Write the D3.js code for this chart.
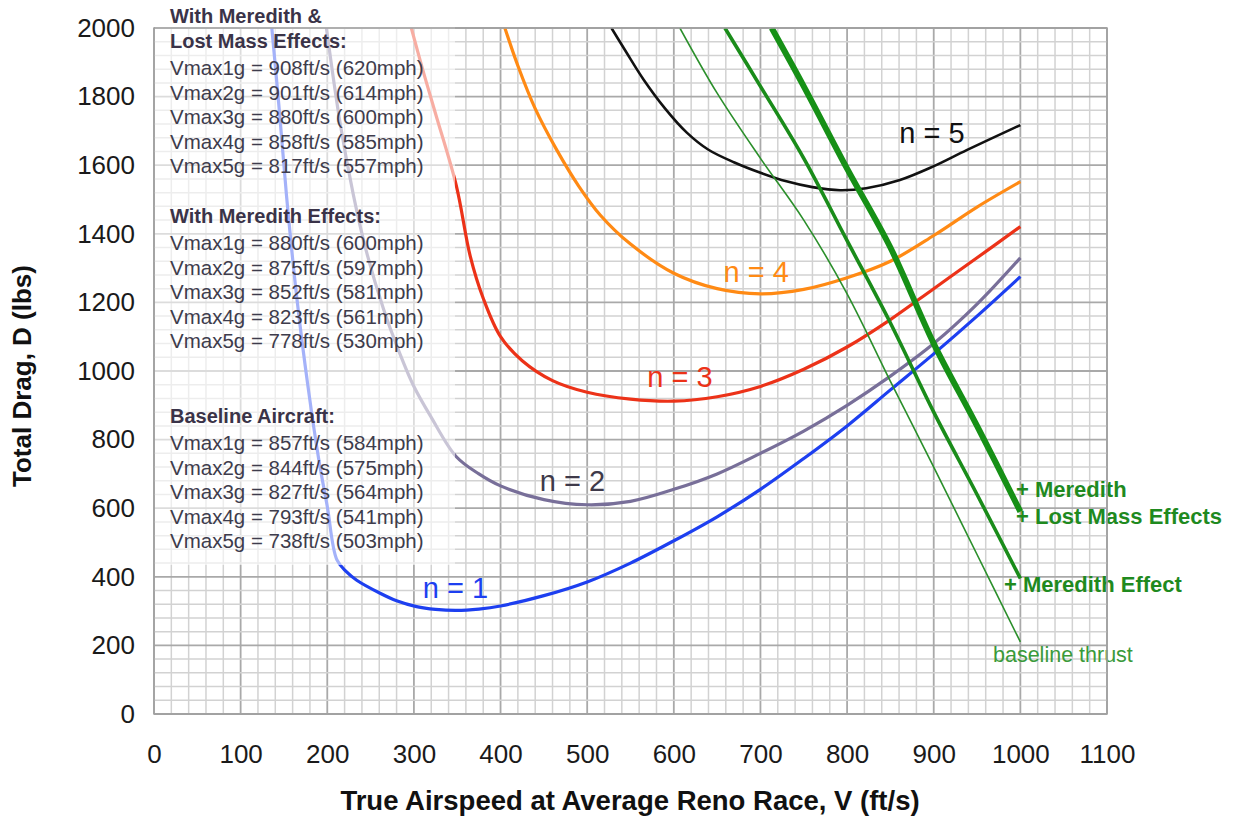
<!DOCTYPE html>
<html>
<head>
<meta charset="utf-8">
<script src="https://cdn.jsdelivr.net/npm/d3@7"></script>
<style>
  body { margin: 0; background: #fff; }
  text { font-family: "Liberation Sans", Arial, Helvetica, sans-serif; }
</style>
</head>
<body>
<script>
// drag curves, [V ft/s, D lbs]
var dragN1 = [[136,2000],[145,1750],[153,1510],[165,1210],[178,950],[190,745],[200,605],[211,450],[222,415],[234,390],[261,352],[280,330],[303,313],[325,305],[349,302],[375,306],[400,315],[450,345],[500,385],[550,440],[600,505],[650,575],[700,655],[750,745],[800,840],[850,945],[900,1050],[950,1160],[1000,1275]];
var dragN2 = [[199,2000],[215,1720],[230,1515],[245,1350],[265,1180],[280,1075],[299,960],[320,865],[349,750],[375,700],[400,665],[450,625],[500,610],[550,620],[600,655],[650,700],[700,760],[750,825],[800,900],[850,985],[900,1080],[950,1195],[1000,1330]];
var dragN3 = [[297,2000],[310,1880],[325,1750],[349,1540],[365,1335],[380,1212],[400,1100],[425,1030],[460,972],[500,938],[550,918],[600,912],[650,925],[700,955],[750,1005],[800,1070],[850,1150],[900,1240],[950,1330],[1000,1421]];
var dragN4 = [[405,2000],[420,1890],[440,1765],[465,1644],[490,1540],[515,1455],[550,1370],[600,1285],[650,1240],[700,1225],[750,1238],[800,1272],[850,1320],[900,1395],[950,1478],[1000,1552]];
var dragN5 = [[528,2000],[545,1930],[565,1850],[590,1765],[615,1695],[640,1645],[670,1608],[700,1578],[730,1553],[760,1536],[792,1527],[822,1533],[861,1557],[899,1596],[938,1644],[1000,1717]];

// thrust lines
var thrustBase = [[607,2000],[650,1810],[700,1620],[750,1440],[800,1225],[850,970],[900,720],[950,465],[1000,210]];
var thrustMer = [[659,2000],[700,1830],[750,1620],[800,1380],[850,1140],[900,880],[950,640],[1000,395]];
var thrustMerLm = [[713,2000],[750,1830],[800,1590],[850,1360],[900,1080],[950,840],[1000,590]];

var xTicks = [0,100,200,300,400,500,600,700,800,900,1000,1100];
var yTicks = [0,200,400,600,800,1000,1200,1400,1600,1800,2000];

var boxBlocks = [
  { head: ["With Meredith &", "Lost Mass Effects:"],
    lines: ["Vmax1g = 908ft/s (620mph)","Vmax2g = 901ft/s (614mph)","Vmax3g = 880ft/s (600mph)","Vmax4g = 858ft/s (585mph)","Vmax5g = 817ft/s (557mph)"] },
  { head: ["With Meredith Effects:"],
    lines: ["Vmax1g = 880ft/s (600mph)","Vmax2g = 875ft/s (597mph)","Vmax3g = 852ft/s (581mph)","Vmax4g = 823ft/s (561mph)","Vmax5g = 778ft/s (530mph)"] },
  { head: ["Baseline Aircraft:"],
    lines: ["Vmax1g = 857ft/s (584mph)","Vmax2g = 844ft/s (575mph)","Vmax3g = 827ft/s (564mph)","Vmax4g = 793ft/s (541mph)","Vmax5g = 738ft/s (503mph)"] }
];

var width = 1234, height = 818;

var svg = d3.select("body").append("svg")
    .attr("width", width)
    .attr("height", height);

svg.append("rect").attr("width", width).attr("height", height).attr("fill", "#fff");

var x = d3.scaleLinear().domain([0, 1100]).range([154, 1107]),
    y = d3.scaleLinear().domain([0, 2000]).range([714, 28]);

// grid
var grid = svg.append("g");
grid.selectAll(".vminor")
    .data(d3.range(0, 1101, 20))
    .enter().append("line")
    .attr("x1", function(d) { return x(d); })
    .attr("x2", function(d) { return x(d); })
    .attr("y1", y(0)).attr("y2", y(2000))
    .style("stroke", function(d) { return d % 100 === 0 ? "#a9a9a9" : "#d2d2d2"; })
    .style("stroke-width", function(d) { return d % 100 === 0 ? 1.8 : 1.5; });

grid.selectAll(".hminor")
    .data(d3.range(0, 2001, 40))
    .enter().append("line")
    .attr("y1", function(d) { return y(d); })
    .attr("y2", function(d) { return y(d); })
    .attr("x1", x(0)).attr("x2", x(1100))
    .style("stroke", function(d) { return d % 200 === 0 ? "#a9a9a9" : "#d2d2d2"; })
    .style("stroke-width", function(d) { return d % 200 === 0 ? 1.8 : 1.5; });

svg.append("clipPath").attr("id", "plotclip")
  .append("rect")
    .attr("x", x(0)).attr("y", y(2000))
    .attr("width", x(1100) - x(0)).attr("height", y(0) - y(2000));

var line = d3.line()
    .x(function(d) { return x(d[0]); })
    .y(function(d) { return y(d[1]); })
    .curve(d3.curveCatmullRom.alpha(0.5));

var plot = svg.append("g").attr("clip-path", "url(#plotclip)");

var curves = [
  { data: dragN1, color: "#1d3ff0", w: 3.2 },
  { data: dragN2, color: "#786f99", w: 3.2 },
  { data: dragN3, color: "#ec3218", w: 3.2 },
  { data: dragN4, color: "#ff8a14", w: 3.2 },
  { data: dragN5, color: "#111111", w: 2.6 },
  { data: thrustBase, color: "#2b8f2b", w: 1.6 },
  { data: thrustMer, color: "#1a8c1a", w: 3.6 },
  { data: thrustMerLm, color: "#169016", w: 6 }
];

plot.selectAll(".curve")
    .data(curves)
    .enter().append("path")
    .attr("class", "curve")
    .attr("d", function(d) { return line(d.data); })
    .style("fill", "none")
    .style("stroke", function(d) { return d.color; })
    .style("stroke-width", function(d) { return d.w; })
    .style("stroke-linecap", "butt");

// translucent box behind the Vmax text
svg.append("rect")
    .attr("x", x(0) + 1)
    .attr("y", 0)
    .attr("width", 455 - x(0) - 1)
    .attr("height", 565)
    .style("fill", "#fff")
    .style("fill-opacity", 0.6);

var tb = svg.append("g").attr("transform", "translate(170,0)");
var baselines = [[23, 48], [223], [423]];
var lineStarts = [75, 250, 450];
boxBlocks.forEach(function(b, i) {
    b.head.forEach(function(h, j) {
        tb.append("text")
            .attr("y", baselines[i][j])
            .style("font-size", "20px")
            .style("font-weight", "bold")
            .style("fill", "#3a3348")
            .text(h);
    });
    b.lines.forEach(function(l, j) {
        tb.append("text")
            .attr("y", lineStarts[i] + j * 24.5)
            .style("font-size", "20.5px")
            .style("fill", "#3e3c4c")
            .text(l);
    });
});

// n labels
var nLabels = [
  { t: "n = 1", v: 348, d: 367, c: "#1d3ff0" },
  { t: "n = 2", v: 483, d: 679, c: "#3f3a4a" },
  { t: "n = 3", v: 607, d: 982, c: "#ec3218" },
  { t: "n = 4", v: 695, d: 1288, c: "#ff8a14" },
  { t: "n = 5", v: 898, d: 1694, c: "#111" }
];
svg.selectAll(".nlab")
    .data(nLabels)
    .enter().append("text")
    .attr("x", function(d) { return x(d.v); })
    .attr("y", function(d) { return y(d.d); })
    .attr("dy", "0.35em")
    .attr("text-anchor", "middle")
    .style("font-size", "29px")
    .style("fill", function(d) { return d.c; })
    .text(function(d) { return d.t; });

// thrust labels
var gLabels = [
  { t: "+ Meredith", px: 1016, py: 497, b: true },
  { t: "+ Lost Mass Effects", px: 1016, py: 524, b: true },
  { t: "+ Meredith Effect", px: 1004, py: 592, b: true },
  { t: "baseline thrust", px: 993, py: 662, b: false }
];
svg.selectAll(".glab")
    .data(gLabels)
    .enter().append("text")
    .attr("x", function(d) { return d.px; })
    .attr("y", function(d) { return d.py; })
    .style("font-size", function(d) { return d.b ? "22px" : "21.5px"; })
    .style("font-weight", function(d) { return d.b ? "bold" : "normal"; })
    .style("fill", function(d) { return d.b ? "#1f8a1f" : "#3a9a3a"; })
    .text(function(d) { return d.t; });

// axes
var xAxis = svg.append("g")
    .attr("transform", "translate(0," + y(0) + ")")
    .call(d3.axisBottom(x).tickValues(xTicks).tickFormat(d3.format("d")).tickSize(0).tickPadding(31));
var yAxis = svg.append("g")
    .attr("transform", "translate(" + x(0) + ",0)")
    .call(d3.axisLeft(y).tickValues(yTicks).tickFormat(d3.format("d")).tickSize(0).tickPadding(19));
[xAxis, yAxis].forEach(function(a) {
    a.select(".domain").remove();
    a.selectAll("text")
        .style("font-size", "26px")
        .style("font-family", "'Liberation Sans', Arial, sans-serif")
        .style("fill", "#1a1a1a");
});

// plot border
svg.append("rect")
    .attr("x", x(0)).attr("y", y(2000))
    .attr("width", x(1100) - x(0)).attr("height", y(0) - y(2000))
    .style("fill", "none")
    .style("stroke", "#a0a0a0")
    .style("stroke-width", 1.5);

svg.append("text")
    .attr("x", 630)
    .attr("y", 810)
    .attr("text-anchor", "middle")
    .style("font-size", "27.5px")
    .style("font-weight", "bold")
    .style("fill", "#111")
    .text("True Airspeed at Average Reno Race, V (ft/s)");

svg.append("text")
    .attr("transform", "translate(31,376) rotate(-90)")
    .attr("text-anchor", "middle")
    .style("font-size", "26px")
    .style("font-weight", "bold")
    .style("fill", "#111")
    .text("Total Drag, D (lbs)");
</script>
</body>
</html>
